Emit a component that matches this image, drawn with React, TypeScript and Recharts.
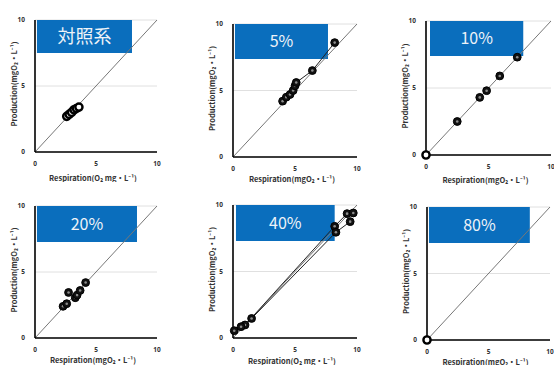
import React from "react";
import {
  ScatterChart,
  Scatter,
  XAxis,
  YAxis,
  CartesianGrid,
  ReferenceLine,
  ReferenceArea,
  Label,
} from "recharts";

type Pt = { x: number; y: number };

// axis ticks and titles
const axisTicks = [0, 5, 10];
const titles = ["対照系", "5%", "10%", "20%", "40%", "80%"];
const yTitle = "Production(mgO₂・L⁻¹)";
const xTitleA = "Respiration(O₂ mg・L⁻¹)";
const xTitleB = "Respiration(mgO₂・L⁻¹)";

// respiration (x) vs production (y)
const ctrlPts: Pt[] = [
  { x: 2.6, y: 2.7 },
  { x: 2.8, y: 2.85 },
  { x: 3.0, y: 3.0 },
  { x: 3.2, y: 3.2 },
  { x: 3.4, y: 3.3 },
  { x: 3.6, y: 3.4 },
];
const p5Pts: Pt[] = [
  { x: 4.0, y: 4.2 },
  { x: 4.3, y: 4.5 },
  { x: 4.6, y: 4.7 },
  { x: 4.85, y: 5.0 },
  { x: 5.0, y: 5.35 },
  { x: 5.1, y: 5.6 },
  { x: 6.4, y: 6.5 },
  { x: 8.2, y: 8.6 },
];
const p10Pts: Pt[] = [
  { x: 0, y: 0 },
  { x: 2.5, y: 2.5 },
  { x: 4.3, y: 4.3 },
  { x: 4.85, y: 4.8 },
  { x: 5.9, y: 5.9 },
  { x: 7.3, y: 7.3 },
];
const p20Pts: Pt[] = [
  { x: 2.3, y: 2.4 },
  { x: 2.6, y: 2.6 },
  { x: 2.75, y: 3.45 },
  { x: 3.3, y: 3.05 },
  { x: 3.45, y: 3.25 },
  { x: 3.7, y: 3.6 },
  { x: 4.15, y: 4.2 },
];
const p40A: Pt[] = [
  { x: 0.1, y: 0.55 },
  { x: 0.97, y: 0.98 },
  { x: 8.2, y: 8.4 },
  { x: 9.2, y: 9.35 },
  { x: 9.7, y: 9.4 },
];
const p40B: Pt[] = [
  { x: 0.65, y: 0.85 },
  { x: 1.5, y: 1.47 },
  { x: 8.3, y: 7.95 },
  { x: 9.45, y: 8.75 },
];
const p80Pts: Pt[] = [{ x: 0, y: 0 }];

// layout of each small chart (page pixels for plot area, box in axis units)
const panels = [
  { series: [ctrlPts], line: false, hollow: true, xTitle: xTitleA, plot: { x: 35, y: 20, w: 122, h: 132 }, box: [0.16, 7.95, 7.5], xDy: 25 },
  { series: [p5Pts], line: true, hollow: false, xTitle: xTitleB, plot: { x: 233, y: 24, w: 124, h: 133 }, box: [0.16, 7.66, 7.37], xDy: 21 },
  { series: [p10Pts], line: false, hollow: false, xTitle: xTitleB, plot: { x: 426, y: 21, w: 125, h: 134 }, box: [0.32, 7.78, 7.39], xDy: 24 },
  { series: [p20Pts], line: false, hollow: false, xTitle: xTitleB, plot: { x: 35, y: 206, w: 122, h: 132 }, box: [0.16, 8.36, 7.27], xDy: 21 },
  { series: [p40A, p40B], line: true, hollow: false, xTitle: xTitleA, plot: { x: 233, y: 205, w: 124, h: 133 }, box: [0.24, 8.2, 7.3], xDy: 22 },
  { series: [p80Pts], line: false, hollow: false, xTitle: xTitleB, plot: { x: 427, y: 207, w: 123, h: 133 }, box: [0.16, 8.36, 7.3], xDy: 21 },
];

const labelFont = "'Noto Sans CJK JP', 'Noto Sans', sans-serif";

const makeDot = (hollowAll: boolean) => (p: any) => {
  const { cx, cy, payload } = p;
  if (cx == null || cy == null) return <g />;
  const hollow = hollowAll || (payload && payload.x === 0 && payload.y === 0);
  if (hollow) {
    return <circle cx={cx} cy={cy} r={3.6} fill="#fff" stroke="#000" strokeWidth={2.4} />;
  }
  return (
    <g>
      <circle cx={cx} cy={cy} r={3.9} fill="#111" stroke="#000" strokeWidth={1} />
      <circle cx={cx} cy={cy} r={1.3} fill="#8c8c8c" />
    </g>
  );
};

const Panel: React.FC<{ cfg: (typeof panels)[number]; title: string }> = ({ cfg, title }) => {
  const { x, y, w, h } = cfg.plot;
  const dot = makeDot(cfg.hollow);
  return (
    <div style={{ position: "absolute", left: x - 40, top: y - 10 }}>
      <ScatterChart width={w + 50} height={h + 40} margin={{ top: 10, right: 10, bottom: 0, left: 0 }}>
        <CartesianGrid horizontal vertical={false} stroke="#e0e0e0" />
        <XAxis
          type="number"
          dataKey="x"
          domain={[0, 10]}
          ticks={axisTicks}
          height={30}
          axisLine={{ stroke: "#000", strokeWidth: 1.6 }}
          tickLine={false}
          tickMargin={3}
          tick={{ fontSize: 6.5, fill: "#333", fontFamily: "'Noto Sans', sans-serif", fontWeight: "bold" }}
        >
          <Label
            content={(p: any) => {
              const vb = p.viewBox || { x: 40, y: h + 10, width: w, height: 30 };
              return (
                <text
                  x={vb.x + vb.width / 2 - 3}
                  y={vb.y + cfg.xDy}
                  textAnchor="middle"
                  dominantBaseline="central"
                  fontSize={7.5}
                  fontWeight="bold"
                  fill="#333"
                  fontFamily={labelFont}
                >
                  {cfg.xTitle}
                </text>
              );
            }}
          />
        </XAxis>
        <YAxis
          type="number"
          dataKey="y"
          domain={[0, 10]}
          ticks={axisTicks}
          width={40}
          axisLine={{ stroke: "#000", strokeWidth: 1.6 }}
          tickLine={false}
          tickMargin={4}
          tick={{ fontSize: 6.5, fill: "#333", fontFamily: "'Noto Sans', sans-serif", fontWeight: "bold" }}
        >
          <Label
            content={(p: any) => {
              const vb = p.viewBox || { x: 0, y: 10, width: 40, height: h };
              const lx = vb.x + vb.width - 22;
              const ly = vb.y + vb.height / 2 - 2;
              return (
                <text
                  x={lx}
                  y={ly}
                  transform={`rotate(-90, ${lx}, ${ly})`}
                  textAnchor="middle"
                  dominantBaseline="central"
                  fontSize={7.5}
                  fontWeight="bold"
                  fill="#333"
                  fontFamily={labelFont}
                >
                  {yTitle}
                </text>
              );
            }}
          />
        </YAxis>
        <ReferenceLine
          segment={[
            { x: 0, y: 0 },
            { x: 10, y: 10 },
          ]}
          stroke="#777"
          strokeWidth={1}
        />
        {cfg.series.map((s, i) => (
          <Scatter
            key={i}
            data={s}
            isAnimationActive={false}
            line={cfg.line ? { stroke: "#222", strokeWidth: 1 } : false}
            shape={dot}
          />
        ))}
        <ReferenceArea
          x1={cfg.box[0]}
          x2={cfg.box[1]}
          y1={cfg.box[2]}
          y2={10}
          fill="#0a6ebd"
          fillOpacity={1}
          stroke="none"
          label={{
            value: title,
            position: "center",
            fill: "#eef3f8",
            fontSize: title.includes("%") ? 16 : 18,
            fontFamily: labelFont,
          }}
        />
      </ScatterChart>
    </div>
  );
};

export default function App() {
  return (
    <div
      style={{
        position: "absolute",
        left: 0,
        top: 0,
        width: 554,
        height: 365,
        overflow: "hidden",
        background: "#fff",
      }}
    >
      {panels.map((cfg, i) => (
        <Panel key={i} cfg={cfg} title={titles[i]} />
      ))}
    </div>
  );
}
